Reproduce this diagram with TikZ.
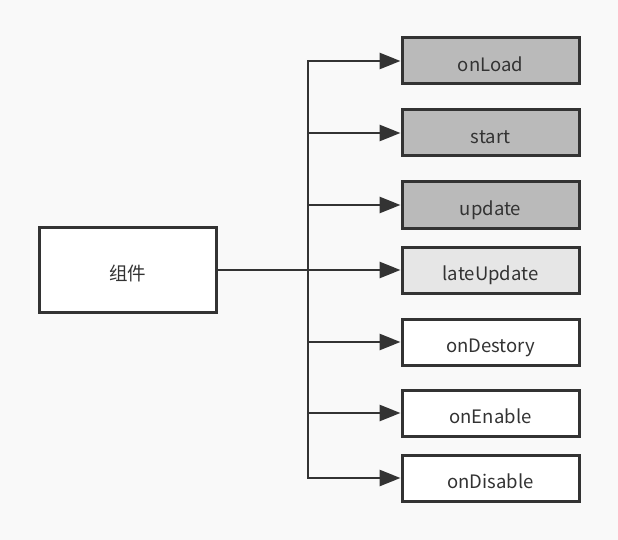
\documentclass[tikz,border=0pt]{standalone}
\usepackage{fontspec}
\setmainfont{Noto Sans CJK SC}
\usetikzlibrary{arrows.meta}
\definecolor{bg}{HTML}{F9F9F9}
\definecolor{edge}{HTML}{333333}
\definecolor{darkfill}{HTML}{BABABA}
\definecolor{lightfill}{HTML}{E6E6E6}
\definecolor{txt}{HTML}{333333}
\tikzset{
  box/.style={draw=edge, line width=3pt, fill=white, minimum width=177pt, minimum height=46pt, inner sep=0pt, text=txt, font=\fontsize{18.5pt}{20pt}\selectfont, text height=21.5pt, text depth=0pt, anchor=center},
  darkbox/.style={box, fill=darkfill},
  lightbox/.style={box, fill=lightfill},
  conn/.style={draw=edge, line width=2.8pt, -{Triangle[length=21pt,width=16pt]}},
}
\begin{document}
\begin{tikzpicture}[x=1pt,y=-1pt]
\fill[bg] (0,0) rectangle (618,540);
\useasboundingbox (0,0) rectangle (618,540);
\node[box, minimum width=177pt, minimum height=85pt] (comp) at (127.5,269.5) {组件};
\node[darkbox] (onload) at (490.5,61) {onLoad};
\node[darkbox] (start) at (490.5,133) {start};
\node[darkbox] (update) at (490.5,205) {update};
\node[lightbox] (late) at (490.5,270) {lateUpdate};
\node[box] (destroy) at (490.5,342) {onDestory};
\node[box] (enable) at (490.5,413) {onEnable};
\node[box] (disable) at (490.5,478) {onDisable};
\coordinate (j) at (308,270);
\foreach \t in {onload,start,update,late,destroy,enable,disable}{
  \draw[conn] (comp.east |- j) -- (j) |- (\t.west);
}
\end{tikzpicture}
\end{document}
